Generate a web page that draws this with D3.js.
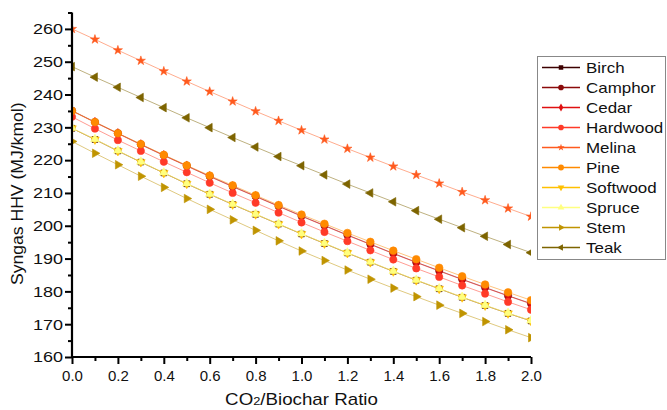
<!DOCTYPE html>
<html>
<head>
<meta charset="utf-8">
<script src="https://cdn.jsdelivr.net/npm/d3@7"></script>
<style>
  html, body { margin: 0; padding: 0; background: #fff; }
  svg { display: block; font-family: "Liberation Sans", Arial, sans-serif; }
</style>
</head>
<body>
<svg id="chart" width="667" height="410"></svg>
<script>
// CO2/biochar ratio steps
const ratios = [0.0, 0.1, 0.2, 0.3, 0.4, 0.5, 0.6, 0.7, 0.8, 0.9, 1.0,
                1.1, 1.2, 1.3, 1.4, 1.5, 1.6, 1.7, 1.8, 1.9, 2.0];

const feedstocks = ["Birch", "Camphor", "Cedar", "Hardwood", "Melina",
                    "Pine", "Softwood", "Spruce", "Stem", "Teak"];

// Syngas HHV (MJ/kmol) per feedstock
const birch    = [229.7, 226.3, 222.8, 219.4, 216.1, 212.8, 209.6, 206.5, 203.5, 200.5, 197.5,
                  194.6, 191.7, 188.9, 186.1, 183.4, 180.8, 178.2, 175.7, 173.3, 171.0];
const camphor  = [235.1, 231.6, 228.2, 224.8, 221.5, 218.3, 215.1, 212.0, 209.0, 206.0, 203.0,
                  200.1, 197.2, 194.4, 191.6, 188.9, 186.3, 183.7, 181.2, 178.7, 176.3];
const cedar    = [235.0, 231.5, 228.1, 224.7, 221.4, 218.2, 215.0, 211.9, 208.9, 205.9, 202.9,
                  200.0, 197.1, 194.3, 191.5, 188.8, 186.2, 183.6, 181.1, 178.6, 176.2];
const hardwood = [233.2, 229.6, 226.1, 222.8, 219.5, 216.3, 213.1, 210.0, 207.0, 204.0, 201.0,
                  198.1, 195.3, 192.5, 189.7, 187.0, 184.4, 181.8, 179.3, 176.8, 174.4];
const melina   = [260.0, 256.8, 253.5, 250.3, 247.1, 244.0, 240.9, 237.9, 234.9, 232.0, 229.1,
                  226.3, 223.5, 220.8, 218.1, 215.5, 212.9, 210.3, 207.8, 205.3, 202.8];
const pine     = [235.0, 231.6, 228.2, 224.9, 221.6, 218.4, 215.3, 212.3, 209.3, 206.3, 203.4,
                  200.6, 197.8, 195.1, 192.4, 189.8, 187.2, 184.6, 182.1, 179.7, 177.3];
const softwood = [229.7, 226.3, 222.8, 219.4, 216.1, 212.8, 209.6, 206.5, 203.5, 200.5, 197.5,
                  194.6, 191.7, 188.9, 186.1, 183.4, 180.8, 178.2, 175.7, 173.3, 171.0];
const spruce   = [229.8, 226.4, 222.9, 219.5, 216.2, 212.9, 209.7, 206.6, 203.6, 200.6, 197.6,
                  194.7, 191.8, 189.0, 186.2, 183.5, 180.9, 178.3, 175.8, 173.4, 171.1];
const stem     = [225.7, 222.1, 218.6, 215.1, 211.7, 208.3, 205.0, 201.8, 198.6, 195.4, 192.3,
                  189.4, 186.5, 183.7, 181.0, 178.4, 175.8, 173.3, 170.8, 168.3, 165.9];
const teak     = [248.5, 245.3, 242.2, 239.1, 236.0, 232.9, 229.9, 226.9, 224.0, 221.1, 218.3,
                  215.5, 212.7, 210.0, 207.3, 204.6, 202.0, 199.4, 196.8, 194.3, 191.8];

const xTicks = [0.0, 0.2, 0.4, 0.6, 0.8, 1.0, 1.2, 1.4, 1.6, 1.8, 2.0];
const yTicks = [160, 170, 180, 190, 200, 210, 220, 230, 240, 250, 260];

const valuesBySeries = [birch, camphor, cedar, hardwood, melina, pine, softwood, spruce, stem, teak];

// Styling per series: colour, marker shape, marker rotation, marker area
const colors = ["#3c0000", "#8b0a0a", "#e01010", "#ff3a28", "#ff5a1e",
                "#ff8a00", "#ffc000", "#ffff80", "#c09400", "#7d6400"];
const shapes = [d3.symbolSquare, d3.symbolCircle, d3.symbolDiamond, d3.symbolCircle, d3.symbolStar,
                d3.symbolCircle, d3.symbolTriangle, d3.symbolTriangle, d3.symbolTriangle, d3.symbolTriangle];
const rotations = [0, 0, 0, 0, 0, 0, 180, 0, 90, -90];
const sizes = [34, 42, 30, 42, 26, 46, 32, 32, 32, 32];

const svg = d3.select("#chart");
const margin = { left: 72, right: 531, top: 12.5, bottom: 357 };

const x = d3.scaleLinear().domain([0, 2]).range([margin.left, margin.right]);
const y = d3.scaleLinear().domain([160, 265]).range([margin.bottom, margin.top]);

svg.append("defs").append("clipPath").attr("id", "plotClip")
  .append("rect")
  .attr("x", margin.left).attr("y", margin.top)
  .attr("width", margin.right - margin.left)
  .attr("height", margin.bottom - margin.top);

const plot = svg.append("g").attr("clip-path", "url(#plotClip)");

const line = d3.line().x((d, i) => x(ratios[i])).y(d => y(d));

valuesBySeries.forEach((vals, s) => {
  const g = plot.append("g");
  g.append("path")
    .attr("d", line(vals))
    .attr("fill", "none")
    .attr("stroke", colors[s])
    .attr("stroke-opacity", 0.5)
    .attr("stroke-width", 1);
  const sym = d3.symbol().type(shapes[s]).size(sizes[s]);
  g.selectAll("path.m")
    .data(vals)
    .join("path")
    .attr("class", "m")
    .attr("d", sym)
    .attr("transform", (d, i) => `translate(${x(ratios[i])},${y(d)}) rotate(${rotations[s]})`)
    .attr("fill", colors[s])
    .attr("stroke", colors[s])
    .attr("stroke-width", 0.6);
});

// Axes
const xAxis = d3.axisBottom(x).tickValues(xTicks).tickFormat(d3.format(".1f")).tickSize(7).tickPadding(6);
const xMinor = d3.axisBottom(x).tickValues(d3.range(1, 20, 2).map(v => v / 10)).tickSize(4).tickFormat("");
const yAxis = d3.axisLeft(y).tickValues(yTicks).tickFormat(d3.format("d")).tickSize(7).tickPadding(2);
const yMinor = d3.axisLeft(y).tickValues(d3.range(165, 270, 10)).tickSize(4).tickFormat("");

function styleAxis(g) {
  g.select(".domain").attr("stroke", "#000").attr("stroke-width", 2.2);
  g.selectAll(".tick line").attr("stroke", "#000").attr("stroke-width", 2);
  g.selectAll(".tick text").attr("fill", "#111").style("font-size", "15px")
    .style("font-family", "'Liberation Sans', Arial, sans-serif");
}

svg.append("g").attr("transform", `translate(0,${margin.bottom})`).call(xMinor).call(styleAxis)
  .select(".domain").remove();
svg.append("g").attr("transform", `translate(${margin.left},0)`).call(yMinor).call(styleAxis)
  .select(".domain").remove();
svg.append("g").attr("transform", `translate(0,${margin.bottom})`).call(xAxis).call(styleAxis)
  .select(".domain").attr("d", `M${margin.left - 1},0H${margin.right}`);
const yG = svg.append("g").attr("transform", `translate(${margin.left},0)`).call(yAxis).call(styleAxis);
yG.select(".domain").attr("d", `M0,${margin.top}V${margin.bottom + 1}`);
// the value labels on the vertical axis are set slightly wide
yG.selectAll(".tick text").each(function () {
  const t = d3.select(this);
  const x0 = +t.attr("x");
  t.attr("x", x0 / 1.2).attr("transform", "scale(1.2,1)");
});

// Axis titles
const xTitle = svg.append("text")
  .attr("transform", `translate(${(margin.left + margin.right) / 2},405) scale(1.17,1)`)
  .attr("text-anchor", "middle")
  .style("font-size", "16px")
  .attr("fill", "#111");
xTitle.append("tspan").text("CO");
xTitle.append("tspan").text("2").style("font-size", "11px");
xTitle.append("tspan").text("/Biochar Ratio");

svg.append("text")
  .attr("transform", `translate(23,${(margin.top + margin.bottom) / 2 + 9}) rotate(-90) scale(1.1,1)`)
  .attr("text-anchor", "middle")
  .style("font-size", "16px")
  .attr("fill", "#111")
  .text("Syngas HHV (MJ/kmol)");

// Legend
const legend = svg.append("g");
legend.append("rect")
  .attr("x", 537.5).attr("y", 56.5).attr("width", 128).attr("height", 203)
  .attr("fill", "#fff").attr("stroke", "#888").attr("stroke-width", 1);

feedstocks.forEach((name, s) => {
  const cy = 67.5 + s * 20;
  legend.append("line")
    .attr("x1", 542).attr("x2", 580).attr("y1", cy).attr("y2", cy)
    .attr("stroke", colors[s]).attr("stroke-width", 1.3);
  legend.append("path")
    .attr("d", d3.symbol().type(shapes[s]).size(sizes[s] * 0.6)())
    .attr("transform", `translate(561,${cy}) rotate(${rotations[s]})`)
    .attr("fill", colors[s]);
  legend.append("text")
    .attr("transform", `translate(586,${cy + 5.5}) scale(1.13,1)`)
    .style("font-size", "15px")
    .attr("fill", "#111")
    .text(name);
});
</script>
</body>
</html>
